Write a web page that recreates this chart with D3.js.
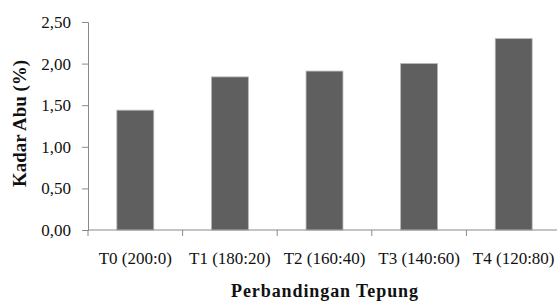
<!DOCTYPE html>
<html>
<head>
<meta charset="utf-8">
<script src="https://cdn.jsdelivr.net/npm/d3@7"></script>
<style>
  body { margin: 0; background: #fff; }
</style>
</head>
<body>
<div id="chart"></div>
<script>
const categories = ["T0 (200:0)", "T1 (180:20)", "T2 (160:40)", "T3 (140:60)", "T4 (120:80)"];
const values = [1.44, 1.84, 1.91, 2.00, 2.30];
const yTicks = [0, 0.5, 1.0, 1.5, 2.0, 2.5];

const FONT = "'Liberation Serif', 'Times New Roman', serif";
const width = 557, height = 301;
const margin = { top: 22, right: -4, bottom: 71, left: 88 };
const innerW = width - margin.left - margin.right;
const innerH = height - margin.top - margin.bottom;

const svg = d3.select("#chart").append("svg")
  .attr("width", width).attr("height", height);
const g = svg.append("g")
  .attr("transform", `translate(${margin.left},${margin.top})`);

const x = d3.scaleBand().domain(categories).range([0, innerW]).paddingInner(0.61).paddingOuter(0.305);
const y = d3.scaleLinear().domain([0, 2.5]).range([innerH, 0]);

// bars
g.selectAll(".bar").data(values).join("rect")
  .attr("class", "bar")
  .attr("x", (d, i) => x(categories[i]))
  .attr("y", d => y(d))
  .attr("width", x.bandwidth())
  .attr("height", d => innerH - y(d))
  .attr("fill", "#5f5f5f")
  .attr("stroke", "#b5b5b5")
  .attr("stroke-width", 0.8);

// y axis
const yAxis = g.append("g")
  .call(d3.axisLeft(y).tickValues(yTicks).tickSize(6).tickPadding(11)
    .tickFormat(d => d3.format(".2f")(d).replace(".", ",")));
yAxis.selectAll("path, line").attr("stroke", "#8a8a8a");
yAxis.selectAll("text")
  .style("font-family", FONT).style("font-size", "17px").attr("fill", "#111");

// x axis with ticks at band boundaries
const xAxis = g.append("g").attr("transform", `translate(0,${innerH})`);
xAxis.append("line").attr("x1", 0).attr("x2", innerW).attr("stroke", "#8a8a8a");
const step = x.step();
xAxis.selectAll(".xt").data(d3.range(categories.length + 1)).join("line")
  .attr("class", "xt")
  .attr("x1", i => x(categories[0]) - x.paddingOuter() * step + i * step)
  .attr("x2", i => x(categories[0]) - x.paddingOuter() * step + i * step)
  .attr("y1", 0).attr("y2", 6)
  .attr("stroke", "#8a8a8a");
xAxis.selectAll(".xl").data(categories).join("text")
  .attr("class", "xl")
  .attr("x", d => x(d) + x.bandwidth() / 2)
  .attr("y", 34)
  .attr("text-anchor", "middle")
  .attr("fill", "#111")
  .style("font-family", FONT).style("font-size", "17px")
  .text(d => d);

// axis titles
g.append("text")
  .attr("x", innerW / 2).attr("y", innerH + 67)
  .attr("text-anchor", "middle")
  .attr("textLength", 187).attr("lengthAdjust", "spacing")
  .attr("fill", "#111")
  .style("font-family", FONT).style("font-size", "18px").style("font-weight", "bold")
  .text("Perbandingan Tepung");

g.append("text")
  .attr("transform", `translate(${26 - margin.left},${123.5 - margin.top}) rotate(-90)`)
  .attr("text-anchor", "middle")
  .attr("textLength", 127).attr("lengthAdjust", "spacingAndGlyphs")
  .attr("fill", "#111")
  .style("font-family", FONT).style("font-size", "18px").style("font-weight", "bold")
  .text("Kadar Abu (%)");
</script>
</body>
</html>
